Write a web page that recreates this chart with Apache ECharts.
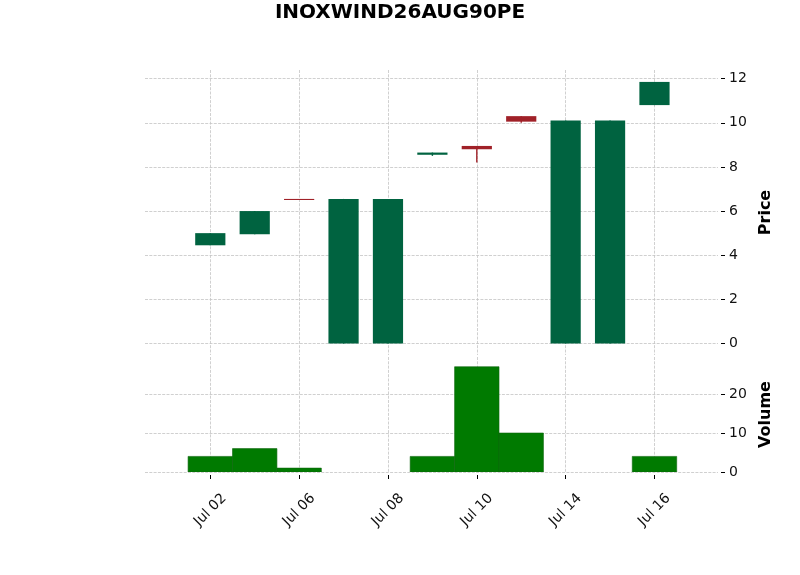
<!DOCTYPE html>
<html>
<head>
<meta charset="utf-8">
<script src="https://cdn.jsdelivr.net/npm/echarts@6/dist/echarts.min.js"></script>
<style>
  html, body { margin: 0; padding: 0; background: #fff; }
  #chart { width: 800px; height: 575px; }
</style>
</head>
<body>
<div id="chart"></div>
<script>
const dates = ["Jul 02", "Jul 03", "Jul 06", "Jul 07", "Jul 08", "Jul 09", "Jul 10", "Jul 13", "Jul 14", "Jul 15", "Jul 16"];
const opens = [4.45, 4.95, 6.55, 0, 0, 8.55, 8.95, 10.3, 0, 0, 10.8];
const closes = [5.0, 6.0, 6.5, 6.55, 6.55, 8.65, 8.8, 10.05, 10.1, 10.1, 11.85];
const lows = [4.45, 4.95, 6.5, 0, 0, 8.5, 8.2, 10.0, 0, 0, 10.8];
const highs = [5.0, 6.0, 6.55, 6.55, 6.55, 8.65, 8.95, 10.3, 10.1, 10.1, 11.85];
const volumes = [4, 6, 1, 0, 0, 4, 27, 10, 0, 0, 4];
const priceTicks = [0, 2, 4, 6, 8, 10, 12];
const volumeTicks = [0, 10, 20];
const dateTicks = [0, 2, 4, 6, 8, 10];

const upColor = "#006340";
const downColor = "#a02128";
const volColor = "#007a00";
const font = "DejaVu Sans";

const candleData = dates.map((d, i) => [i, opens[i], closes[i], lows[i], highs[i]]);
const volumeData = dates.map((d, i) => [i, volumes[i]]);

const gridLine = {
  show: true,
  lineStyle: { color: "#c4c4c4", width: 0.8, type: [3, 1.3] }
};

function renderCandle(params, api) {
  const x = api.value(0);
  const o = api.value(1), c = api.value(2), l = api.value(3), h = api.value(4);
  const pO = api.coord([x, o]);
  const pC = api.coord([x, c]);
  const pL = api.coord([x, l]);
  const pH = api.coord([x, h]);
  const w = api.size([0.68, 0])[0];
  const color = c >= o ? upColor : downColor;
  const top = Math.min(pO[1], pC[1]);
  const hgt = Math.max(Math.abs(pO[1] - pC[1]), 1);
  return {
    type: "group",
    children: [
      {
        type: "line",
        shape: { x1: pH[0], y1: pH[1], x2: pL[0], y2: pL[1] },
        style: { stroke: color, lineWidth: 1.4 }
      },
      {
        type: "rect",
        shape: { x: pO[0] - w / 2, y: top, width: w, height: hgt },
        style: { fill: color }
      }
    ]
  };
}

function renderVolume(params, api) {
  const x = api.value(0);
  const v = api.value(1);
  if (!v) return null;
  const p1 = api.coord([x - 0.5, v]);
  const p2 = api.coord([x + 0.5, 0]);
  return {
    type: "rect",
    shape: { x: p1[0], y: p1[1], width: p2[0] - p1[0], height: p2[1] - p1[1] },
    style: { fill: volColor, stroke: "#0b650b", lineWidth: 0.6 }
  };
}

const chart = echarts.init(document.getElementById("chart"));
chart.setOption({
  animation: false,
  backgroundColor: "#fff",
  textStyle: { fontFamily: font },
  title: {
    text: "INOXWIND26AUG90PE",
    left: "center",
    top: -2,
    textStyle: { fontFamily: font, fontSize: 20, fontWeight: "bold", color: "#000" }
  },
  grid: [
    { left: 145, right: 82, top: 70, height: 285 },
    { left: 145, right: 82, top: 357, height: 115 }
  ],
  xAxis: [
    {
      type: "value",
      gridIndex: 0,
      min: -1.47,
      max: 11.43,
      axisLine: { show: false, onZero: false },
      axisTick: { show: false, customValues: dateTicks },
      axisLabel: { show: false, customValues: dateTicks },
      splitLine: gridLine
    },
    {
      type: "value",
      gridIndex: 1,
      min: -1.47,
      max: 11.43,
      offset: 3,
      axisLine: { show: false, onZero: false },
      axisTick: { show: true, length: 4, customValues: dateTicks, lineStyle: { color: "#000" } },
      axisLabel: {
        customValues: dateTicks,
        formatter: v => dates[v],
        rotate: 45,
        align: "center",
        verticalAlign: "middle",
        margin: 35,
        fontSize: 14,
        color: "#111",
        fontFamily: font
      },
      splitLine: gridLine
    }
  ],
  yAxis: [
    {
      type: "value",
      gridIndex: 0,
      position: "right",
      min: -0.52,
      max: 12.39,
      offset: 3,
      name: "Price",
      nameLocation: "middle",
      nameRotate: 90,
      nameGap: 34,
      nameTextStyle: { fontFamily: font, fontSize: 16, fontWeight: "bold", color: "#000" },
      axisLine: { show: false, onZero: false },
      axisTick: { show: true, length: 4, customValues: priceTicks, lineStyle: { color: "#000" } },
      axisLabel: { customValues: priceTicks, margin: 8, fontSize: 14, color: "#111", fontFamily: font },
      splitLine: gridLine
    },
    {
      type: "value",
      gridIndex: 1,
      position: "right",
      min: 0,
      max: 29.5,
      offset: 3,
      name: "Volume",
      nameLocation: "middle",
      nameRotate: 90,
      nameGap: 34,
      nameTextStyle: { fontFamily: font, fontSize: 16, fontWeight: "bold", color: "#000" },
      axisLine: { show: false, onZero: false },
      axisTick: { show: true, length: 4, customValues: volumeTicks, lineStyle: { color: "#000" } },
      axisLabel: { customValues: volumeTicks, margin: 8, fontSize: 14, color: "#111", fontFamily: font },
      splitLine: gridLine
    }
  ],
  series: [
    {
      type: "custom",
      name: "Price",
      xAxisIndex: 0,
      yAxisIndex: 0,
      renderItem: renderCandle,
      encode: { x: 0, y: [1, 2, 3, 4] },
      data: candleData,
      clip: true
    },
    {
      type: "custom",
      name: "Volume",
      xAxisIndex: 1,
      yAxisIndex: 1,
      renderItem: renderVolume,
      encode: { x: 0, y: 1 },
      data: volumeData,
      clip: true
    }
  ]
});
</script>
</body>
</html>
